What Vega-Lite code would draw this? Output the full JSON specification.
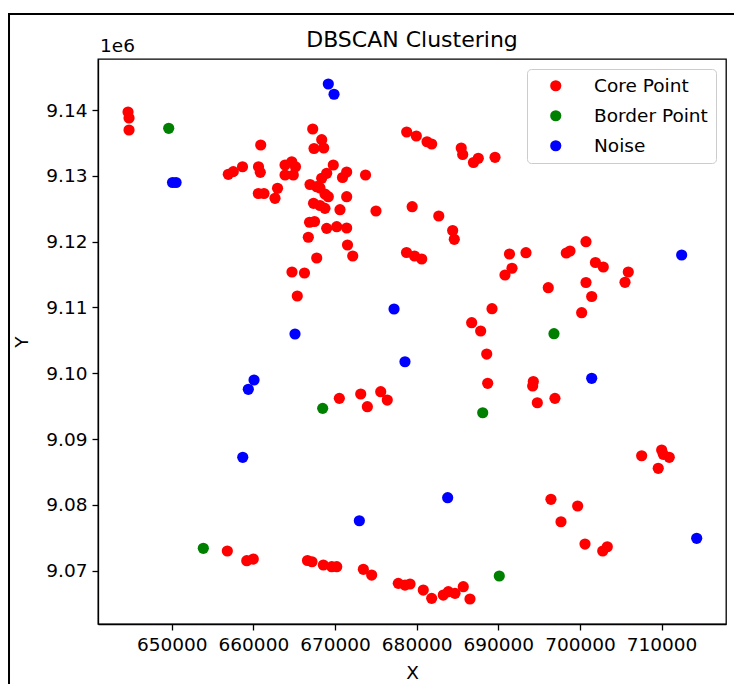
{
  "$schema": "https://vega.github.io/schema/vega-lite/v6.json",
  "autosize": {"type": "none"},
  "padding": {"left": 98, "top": 59, "right": 8, "bottom": 60},
  "width": 628,
  "height": 565,
  "title": {"text": "DBSCAN Clustering", "fontSize": 22, "fontWeight": "normal", "color": "black", "anchor": "middle", "baseline": "alphabetic", "offset": 0, "dy": 56},
  "layer": [
    {
      "data": {"values": [{"x0": 630070, "x1": 720300, "y0": 9154590, "y1": 9051110}]},
      "mark": {"type": "rect", "fill": null, "fillOpacity": 0, "stroke": "black", "strokeWidth": 2, "clip": false},
      "encoding": {
        "x": {"field": "x0", "type": "quantitative"},
        "x2": {"field": "x1"},
        "y": {"field": "y0", "type": "quantitative"},
        "y2": {"field": "y1"}
      }
    },
    {
      "data": {"values": [
        {"x": 644650, "y": 9139700, "type": "Core Point"},
        {"x": 644770, "y": 9138780, "type": "Core Point"},
        {"x": 644770, "y": 9136960, "type": "Core Point"},
        {"x": 660900, "y": 9134680, "type": "Core Point"},
        {"x": 656930, "y": 9130230, "type": "Core Point"},
        {"x": 657540, "y": 9130630, "type": "Core Point"},
        {"x": 658670, "y": 9131380, "type": "Core Point"},
        {"x": 660630, "y": 9131380, "type": "Core Point"},
        {"x": 660850, "y": 9130530, "type": "Core Point"},
        {"x": 663880, "y": 9131640, "type": "Core Point"},
        {"x": 664700, "y": 9132140, "type": "Core Point"},
        {"x": 665160, "y": 9131380, "type": "Core Point"},
        {"x": 663880, "y": 9130120, "type": "Core Point"},
        {"x": 664890, "y": 9130120, "type": "Core Point"},
        {"x": 660610, "y": 9127310, "type": "Core Point"},
        {"x": 661300, "y": 9127310, "type": "Core Point"},
        {"x": 662960, "y": 9128100, "type": "Core Point"},
        {"x": 662650, "y": 9126580, "type": "Core Point"},
        {"x": 667270, "y": 9137110, "type": "Core Point"},
        {"x": 668370, "y": 9135490, "type": "Core Point"},
        {"x": 667430, "y": 9134150, "type": "Core Point"},
        {"x": 668620, "y": 9134230, "type": "Core Point"},
        {"x": 669790, "y": 9131640, "type": "Core Point"},
        {"x": 671430, "y": 9130580, "type": "Core Point"},
        {"x": 670920, "y": 9129740, "type": "Core Point"},
        {"x": 673740, "y": 9130120, "type": "Core Point"},
        {"x": 668980, "y": 9130380, "type": "Core Point"},
        {"x": 668370, "y": 9129620, "type": "Core Point"},
        {"x": 666940, "y": 9128680, "type": "Core Point"},
        {"x": 667760, "y": 9128350, "type": "Core Point"},
        {"x": 668160, "y": 9128150, "type": "Core Point"},
        {"x": 668770, "y": 9127240, "type": "Core Point"},
        {"x": 669180, "y": 9126830, "type": "Core Point"},
        {"x": 671430, "y": 9126830, "type": "Core Point"},
        {"x": 667370, "y": 9125820, "type": "Core Point"},
        {"x": 668160, "y": 9125490, "type": "Core Point"},
        {"x": 668770, "y": 9125060, "type": "Core Point"},
        {"x": 670610, "y": 9124850, "type": "Core Point"},
        {"x": 675020, "y": 9124650, "type": "Core Point"},
        {"x": 666880, "y": 9122940, "type": "Core Point"},
        {"x": 667490, "y": 9123060, "type": "Core Point"},
        {"x": 668980, "y": 9122020, "type": "Core Point"},
        {"x": 670210, "y": 9122270, "type": "Core Point"},
        {"x": 671430, "y": 9122070, "type": "Core Point"},
        {"x": 666730, "y": 9120670, "type": "Core Point"},
        {"x": 671530, "y": 9119490, "type": "Core Point"},
        {"x": 672170, "y": 9117820, "type": "Core Point"},
        {"x": 667760, "y": 9117510, "type": "Core Point"},
        {"x": 664730, "y": 9115380, "type": "Core Point"},
        {"x": 666260, "y": 9115230, "type": "Core Point"},
        {"x": 665380, "y": 9111740, "type": "Core Point"},
        {"x": 678780, "y": 9136660, "type": "Core Point"},
        {"x": 679960, "y": 9136050, "type": "Core Point"},
        {"x": 681270, "y": 9135180, "type": "Core Point"},
        {"x": 681840, "y": 9134830, "type": "Core Point"},
        {"x": 685460, "y": 9134230, "type": "Core Point"},
        {"x": 685640, "y": 9133240, "type": "Core Point"},
        {"x": 686960, "y": 9132020, "type": "Core Point"},
        {"x": 687550, "y": 9132660, "type": "Core Point"},
        {"x": 689600, "y": 9132810, "type": "Core Point"},
        {"x": 679450, "y": 9125310, "type": "Core Point"},
        {"x": 682710, "y": 9123890, "type": "Core Point"},
        {"x": 684410, "y": 9121690, "type": "Core Point"},
        {"x": 684610, "y": 9120350, "type": "Core Point"},
        {"x": 678760, "y": 9118350, "type": "Core Point"},
        {"x": 679740, "y": 9117820, "type": "Core Point"},
        {"x": 680620, "y": 9117360, "type": "Core Point"},
        {"x": 691370, "y": 9118120, "type": "Core Point"},
        {"x": 693390, "y": 9118320, "type": "Core Point"},
        {"x": 691680, "y": 9115950, "type": "Core Point"},
        {"x": 690820, "y": 9114930, "type": "Core Point"},
        {"x": 696120, "y": 9113000, "type": "Core Point"},
        {"x": 698330, "y": 9118270, "type": "Core Point"},
        {"x": 698780, "y": 9118580, "type": "Core Point"},
        {"x": 700740, "y": 9119990, "type": "Core Point"},
        {"x": 701900, "y": 9116830, "type": "Core Point"},
        {"x": 702860, "y": 9116140, "type": "Core Point"},
        {"x": 705920, "y": 9115380, "type": "Core Point"},
        {"x": 705520, "y": 9113820, "type": "Core Point"},
        {"x": 700740, "y": 9113790, "type": "Core Point"},
        {"x": 701440, "y": 9111660, "type": "Core Point"},
        {"x": 700210, "y": 9109200, "type": "Core Point"},
        {"x": 689230, "y": 9109810, "type": "Core Point"},
        {"x": 686740, "y": 9107680, "type": "Core Point"},
        {"x": 687840, "y": 9106420, "type": "Core Point"},
        {"x": 688580, "y": 9102920, "type": "Core Point"},
        {"x": 688700, "y": 9098470, "type": "Core Point"},
        {"x": 670530, "y": 9096190, "type": "Core Point"},
        {"x": 673150, "y": 9096850, "type": "Core Point"},
        {"x": 673960, "y": 9094920, "type": "Core Point"},
        {"x": 675600, "y": 9097200, "type": "Core Point"},
        {"x": 676400, "y": 9095930, "type": "Core Point"},
        {"x": 694290, "y": 9098750, "type": "Core Point"},
        {"x": 694210, "y": 9098060, "type": "Core Point"},
        {"x": 694780, "y": 9095520, "type": "Core Point"},
        {"x": 696940, "y": 9096190, "type": "Core Point"},
        {"x": 707560, "y": 9087470, "type": "Core Point"},
        {"x": 710010, "y": 9088340, "type": "Core Point"},
        {"x": 710210, "y": 9087680, "type": "Core Point"},
        {"x": 710940, "y": 9087230, "type": "Core Point"},
        {"x": 709590, "y": 9085560, "type": "Core Point"},
        {"x": 696450, "y": 9080850, "type": "Core Point"},
        {"x": 697680, "y": 9077440, "type": "Core Point"},
        {"x": 699720, "y": 9079830, "type": "Core Point"},
        {"x": 700620, "y": 9074050, "type": "Core Point"},
        {"x": 702790, "y": 9072990, "type": "Core Point"},
        {"x": 703350, "y": 9073640, "type": "Core Point"},
        {"x": 656810, "y": 9072990, "type": "Core Point"},
        {"x": 659190, "y": 9071520, "type": "Core Point"},
        {"x": 659990, "y": 9071770, "type": "Core Point"},
        {"x": 666630, "y": 9071550, "type": "Core Point"},
        {"x": 667180, "y": 9071360, "type": "Core Point"},
        {"x": 668570, "y": 9070860, "type": "Core Point"},
        {"x": 669600, "y": 9070610, "type": "Core Point"},
        {"x": 670210, "y": 9070610, "type": "Core Point"},
        {"x": 673470, "y": 9070210, "type": "Core Point"},
        {"x": 674490, "y": 9069340, "type": "Core Point"},
        {"x": 677750, "y": 9068080, "type": "Core Point"},
        {"x": 678570, "y": 9067820, "type": "Core Point"},
        {"x": 679190, "y": 9067980, "type": "Core Point"},
        {"x": 680810, "y": 9067060, "type": "Core Point"},
        {"x": 681840, "y": 9065800, "type": "Core Point"},
        {"x": 683260, "y": 9066300, "type": "Core Point"},
        {"x": 683880, "y": 9066810, "type": "Core Point"},
        {"x": 684700, "y": 9066560, "type": "Core Point"},
        {"x": 685710, "y": 9067570, "type": "Core Point"},
        {"x": 686530, "y": 9065700, "type": "Core Point"},
        {"x": 649630, "y": 9137220, "type": "Border Point"},
        {"x": 668490, "y": 9094670, "type": "Border Point"},
        {"x": 688090, "y": 9094000, "type": "Border Point"},
        {"x": 696820, "y": 9106010, "type": "Border Point"},
        {"x": 653870, "y": 9073400, "type": "Border Point"},
        {"x": 690120, "y": 9069190, "type": "Border Point"},
        {"x": 650100, "y": 9128980, "type": "Noise"},
        {"x": 650530, "y": 9128980, "type": "Noise"},
        {"x": 669180, "y": 9143950, "type": "Noise"},
        {"x": 669880, "y": 9142390, "type": "Noise"},
        {"x": 665100, "y": 9105960, "type": "Noise"},
        {"x": 660080, "y": 9098970, "type": "Noise"},
        {"x": 659380, "y": 9097560, "type": "Noise"},
        {"x": 658700, "y": 9087230, "type": "Noise"},
        {"x": 672980, "y": 9077590, "type": "Noise"},
        {"x": 677230, "y": 9109760, "type": "Noise"},
        {"x": 678570, "y": 9101750, "type": "Noise"},
        {"x": 683800, "y": 9081090, "type": "Noise"},
        {"x": 701440, "y": 9099230, "type": "Noise"},
        {"x": 712460, "y": 9117970, "type": "Noise"},
        {"x": 714300, "y": 9074920, "type": "Noise"}
      ]},
      "mark": {"type": "circle", "size": 125, "opacity": 1},
      "encoding": {
        "x": {"field": "x", "type": "quantitative",
          "scale": {"domain": [640970, 717890], "nice": false, "zero": false},
          "axis": {"title": "X", "values": [650000, 660000, 670000, 680000, 690000, 700000, 710000], "format": "d", "titlePadding": 10}},
        "y": {"field": "y", "type": "quantitative",
          "scale": {"domain": [9061900, 9147750], "nice": false, "zero": false},
          "axis": {"title": "Y", "values": [9070000, 9080000, 9090000, 9100000, 9110000, 9120000, 9130000, 9140000], "labelExpr": "format(datum.value / 1000000, '.2f')", "titlePadding": 14}},
        "color": {"field": "type", "type": "nominal",
          "scale": {"domain": ["Core Point", "Border Point", "Noise"], "range": ["#ff0000", "#008000", "#0000ff"]},
          "legend": {"title": null, "orient": "none", "legendX": 429, "legendY": 10}}
      }
    },
    {
      "data": {"values": [{"label": "1e6"}]},
      "mark": {"type": "text", "align": "left", "baseline": "alphabetic", "dx": 2, "dy": -7, "fontSize": 18.5, "color": "black"},
      "encoding": {
        "x": {"datum": 640970, "type": "quantitative"},
        "y": {"datum": 9147750, "type": "quantitative"},
        "text": {"field": "label", "type": "nominal"}
      }
    }
  ],
  "config": {
    "font": "DejaVu Sans",
    "view": {"stroke": "black", "strokeWidth": 1.3},
    "axis": {"grid": false, "domainColor": "black", "domainWidth": 1.3, "tickColor": "black", "tickWidth": 1.3, "tickSize": 6, "labelPadding": 5, "labelColor": "black", "labelFontSize": 18.5, "titleColor": "black", "titleFontSize": 18.5, "titleFontWeight": "normal"},
    "legend": {"fillColor": "rgba(255,255,255,0.8)", "strokeColor": "#cccccc", "strokeWidth": 1, "cornerRadius": 4, "padding": 7.5, "labelFontSize": 18.5, "labelColor": "black", "symbolSize": 125, "symbolType": "circle", "symbolStrokeWidth": 0, "symbolOpacity": 1, "rowPadding": 11, "labelOffset": 29, "symbolOffset": 12}
  }
}
